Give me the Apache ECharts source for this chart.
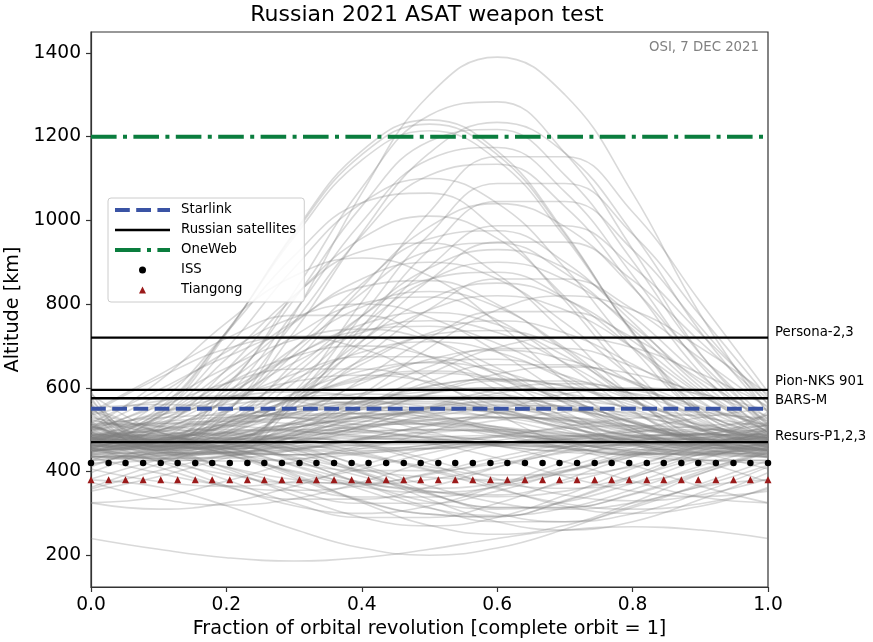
<!DOCTYPE html>
<html>
<head>
<meta charset="utf-8">
<script src="https://cdn.jsdelivr.net/npm/echarts@6/dist/echarts.min.js"></script>
<style>
html,body{margin:0;padding:0;background:#fff;}
#chart{width:873px;height:642px;}
</style>
</head>
<body>
<div id="chart"></div>
<script>
// Sample positions along one orbital revolution
const orbitFraction = [0, 0.1, 0.2, 0.3, 0.4, 0.5, 0.6, 0.7, 0.8, 0.9, 1.0];

// Debris altitude profiles [km] at the sample positions
const highArcs = [
  [540,450,540,775,1065,1300,1390,1300,1065,775,540],
  [509,477,599,829,1078,1251,1283,1161,931,682,509],
  [460,534,729,971,1166,1240,1166,971,729,534,460],
  [543,470,543,734,970,1161,1234,1161,970,734,543],
  [525,497,606,811,1034,1189,1217,1108,903,680,525],
  [480,550,734,960,1144,1214,1144,960,734,550,480],
  [590,458,458,590,805,1020,1152,1152,1020,805,590],
  [492,466,567,757,964,1108,1134,1033,843,636,492],
  [577,456,456,577,772,967,1088,1088,967,772,577],
  [475,564,732,915,1042,1065,976,808,625,498,475],
  [515,460,515,660,840,985,1040,985,840,660,515],
  [450,503,643,817,957,1010,957,817,643,503,450],
  [494,475,550,693,848,956,975,900,757,602,494],
  [563,472,472,563,710,857,948,948,857,710,563],
  [454,529,669,821,926,946,871,731,579,474,454],
  [514,470,514,629,771,886,930,886,771,629,514],
  [503,615,755,867,910,867,755,615,503,460,503],
  [480,520,625,755,860,900,860,755,625,520,480],
  [480,539,694,886,1041,1100,1041,886,694,539,480],
  [560,445,445,560,745,930,1045,1045,930,745,560],
  [504,476,582,781,996,1146,1174,1068,869,654,504],
  [470,543,733,967,1157,1230,1157,967,733,543,470],
  [571,473,473,571,730,889,987,987,889,730,571],
  [493,474,546,680,826,927,946,874,740,594,493]
];
const midArcs = [
  [480,464,526,644,771,860,876,814,696,569,480],
  [474,531,641,759,841,856,799,689,571,489,474],
  [488,450,488,588,712,812,850,812,712,588,488],
  [542,630,718,773,773,718,630,542,487,487,542],
  [440,477,575,695,793,830,793,695,575,477,440],
  [584,494,460,494,584,696,786,820,786,696,584],
  [502,584,686,768,800,768,686,584,502,470,502],
  [520,458,458,520,620,720,782,782,720,620,520],
  [480,509,584,676,751,780,751,676,584,509,480],
  [537,623,693,720,693,623,537,467,440,467,537],
  [489,460,489,564,656,731,760,731,656,564,489],
  [473,514,592,677,737,747,706,628,543,483,473],
  [464,453,496,577,665,726,737,694,613,525,464],
  [516,595,674,723,723,674,595,516,467,467,516],
  [556,494,470,494,556,634,696,720,696,634,556],
  [450,475,540,620,685,710,685,620,540,475,450],
  [465,530,610,675,700,675,610,530,465,440,465],
  [552,480,480,552,670,788,860,860,788,670,552],
  [453,508,612,724,802,817,762,658,546,468,453],
  [502,460,502,612,748,858,900,858,748,612,502],
  [470,498,570,660,732,760,732,660,570,498,470],
  [494,460,494,584,696,786,820,786,696,584,494],
  [509,466,466,509,580,651,694,694,651,580,509],
  [496,563,647,714,740,714,647,563,496,470,496],
  [450,470,523,587,640,660,640,587,523,470,450]
];
const lowArcs = [
  [482,460,482,539,611,668,690,668,611,539,482],
  [456,497,565,633,674,674,633,565,497,456,456],
  [475,475,511,570,629,662,668,629,570,511,475],
  [485,445,445,485,550,615,655,655,615,550,485],
  [499,555,611,645,645,611,555,499,465,465,499],
  [450,468,516,574,622,640,622,574,516,468,450],
  [485,525,575,615,630,615,575,525,485,470,485],
  [457,440,457,502,558,603,620,603,558,502,457],
  [508,469,454,469,508,556,595,610,595,556,508],
  [460,473,508,552,587,600,587,552,508,473,460],
  [494,540,576,590,576,540,494,458,444,458,494],
  [453,453,477,515,553,574,580,553,515,477,453],
  [463,483,515,547,567,567,547,515,483,463,463],
  [465,443,443,465,500,535,557,557,535,500,465],
  [450,460,485,515,540,550,540,515,485,460,450],
  [454,477,507,530,539,530,507,477,454,445,454],
  [462,455,462,481,503,522,529,522,503,481,462],
  [532,487,470,487,532,588,633,650,633,588,532],
  [545,495,455,440,455,495,545,585,600,585,545],
  [535,568,580,568,535,495,462,450,462,495,535]
];
const lowCurves = [
  [240,214,194,186,194,214,240,260,268,260,240],
  [380,363,318,262,217,200,217,262,318,363,380],
  [449,470,449,394,326,271,250,271,326,394,449],
  [480,460,407,343,290,270,290,343,407,460,480],
  [411,461,480,461,411,349,299,280,299,349,411],
  [472,424,366,318,300,318,366,424,472,490,472],
  [485,485,449,390,331,298,292,331,390,449,485],
  [453,486,486,453,400,347,314,314,347,400,453],
  [476,447,400,353,324,324,353,400,447,476,476],
  [457,410,363,334,334,363,410,457,486,486,457],
  [467,480,467,432,388,353,340,353,388,432,467],
  [490,477,442,398,363,350,363,398,442,477,490],
  [434,396,366,355,366,396,434,464,475,464,434],
  [445,478,490,478,445,405,372,360,372,405,445],
  [479,449,411,381,370,381,411,449,479,490,479],
  [487,487,467,435,403,386,380,403,435,467,487],
  [469,488,488,469,440,411,392,392,411,440,469],
  [488,471,445,419,402,402,419,445,471,488,488],
  [362,418,463,480,463,418,362,317,300,317,362],
  [375,335,320,335,375,425,465,480,465,425,375],
  [325,310,325,365,415,455,470,455,415,365,325],
  [325,339,377,423,461,475,461,423,377,339,325],
  [353,388,432,467,480,467,432,388,353,340,353],
  [397,450,470,450,397,333,280,260,280,333,397],
  [426,460,460,426,370,314,280,280,314,370,426],
  [470,436,380,324,290,290,324,380,436,470,470],
  [382,428,466,480,466,428,382,344,330,344,382],
  [482,482,456,415,374,352,344,374,415,456,482],
  [458,475,458,413,357,312,295,312,357,413,458],
  [406,376,365,376,406,444,474,485,474,444,406],
  [473,490,473,428,372,327,310,327,372,428,473],
  [415,455,470,455,415,365,325,310,325,365,415],
  [481,454,410,366,339,339,366,410,454,481,481],
  [358,402,437,450,437,402,358,323,310,323,358],
  [480,469,439,401,371,360,371,401,439,469,480],
  [445,476,476,445,395,345,314,314,345,395,445],
  [457,425,393,373,373,393,425,457,477,477,457],
  [475,475,441,385,329,298,292,329,385,441,475]
];
const bandCurves = [
  [460,464,474,486,496,500,496,486,474,464,460],
  [476,470,476,491,509,524,530,524,509,491,476],
  [502,518,530,535,530,518,502,490,485,490,502],
  [465,458,455,458,465,475,482,485,482,475,465],
  [487,499,520,541,553,553,541,520,499,487,487],
  [499,514,520,514,499,481,466,460,466,481,499],
  [466,454,444,440,444,454,466,476,480,476,466],
  [506,492,492,506,530,554,568,568,554,530,506],
  [476,500,524,538,538,524,500,476,462,462,476],
  [435,438,445,455,462,465,462,455,445,438,435],
  [495,483,467,455,450,455,467,483,495,500,495],
  [462,462,479,505,531,545,551,531,505,479,462],
  [440,450,475,505,530,540,530,505,475,450,440],
  [451,440,451,481,519,549,560,549,519,481,451],
  [443,469,510,551,577,577,551,510,469,443,443],
  [448,468,492,512,520,512,492,468,448,440,448],
  [478,450,440,450,478,512,540,550,540,512,478],
  [444,444,473,520,567,592,600,567,520,473,444],
  [479,462,462,479,505,531,548,548,531,505,479],
  [461,479,494,500,494,479,461,446,440,446,461],
  [459,485,511,528,528,511,485,459,442,442,459],
  [464,450,464,502,548,586,600,586,548,502,464],
  [511,528,535,528,511,489,472,465,472,489,511],
  [486,464,447,440,447,464,486,503,510,503,486],
  [450,462,495,535,568,580,568,535,495,462,450],
  [510,515,510,498,482,470,465,470,482,498,510],
  [436,436,445,460,475,482,486,475,460,445,436],
  [485,454,454,485,535,585,616,616,585,535,485],
  [466,493,527,554,565,554,527,493,466,455,466],
  [527,507,483,463,455,463,483,507,527,535,527],
  [451,432,432,451,480,509,528,528,509,480,451],
  [448,470,505,540,562,562,540,505,470,448,448],
  [437,430,437,454,476,493,500,493,476,454,437],
  [455,472,517,573,618,635,618,573,517,472,455],
  [505,535,560,570,560,535,505,480,470,480,505],
  [426,437,455,473,484,484,473,455,437,426,426],
  [433,433,455,490,525,544,550,525,490,455,433],
  [508,473,460,473,508,552,587,600,587,552,508],
  [435,443,463,487,507,515,507,487,463,443,435],
  [471,500,529,548,548,529,500,471,452,452,471],
  [515,509,494,476,461,455,461,476,494,509,515],
  [475,460,475,515,565,605,620,605,565,515,475],
  [442,430,425,430,442,458,470,475,470,458,442],
  [522,498,478,470,478,498,522,542,550,542,522],
  [427,444,470,496,513,513,496,470,444,427,427],
  [476,506,544,574,585,574,544,506,476,465,476],
  [438,425,438,473,517,552,565,552,517,473,438],
  [420,428,448,472,492,500,492,472,448,428,420],
  [486,496,500,496,486,474,464,460,464,474,486],
  [551,560,551,529,501,479,470,479,501,529,551]
];

// Reference orbits
const starlinkAlt = 550;
const onewebAlt = 1200;
const russianSatAlts = [720, 595, 575, 470];
const russianSatNames = ['Persona-2,3', 'Pion-NKS 901', 'BARS-M', 'Resurs-P1,2,3'];
const stationFraction = [0,0.026,0.051,0.077,0.103,0.128,0.154,0.179,0.205,0.231,0.256,0.282,0.308,0.333,0.359,0.385,0.41,0.436,0.462,0.487,0.513,0.538,0.564,0.59,0.615,0.641,0.667,0.692,0.718,0.744,0.769,0.795,0.821,0.846,0.872,0.897,0.923,0.949,0.974,1];
const issAlt = 420;
const tiangongAlt = 380;
const yTicks = [200, 400, 600, 800, 1000, 1200, 1400];

const FONT = 'DejaVu Sans';
const chart = echarts.init(document.getElementById('chart'), null, {renderer: 'canvas'});

const allDebris = [].concat(highArcs, midArcs, lowArcs, lowCurves, bandCurves);
const series = [];
allDebris.forEach((alts, i) => {
  series.push({
    type: 'line', name: 'debris' + i, silent: true, symbol: 'none', showSymbol: false,
    smooth: 0.45, z: 1,
    lineStyle: {color: 'rgba(128,128,128,0.3)', width: 1.6},
    data: orbitFraction.map((x, j) => [x, alts[j]])
  });
});
const starlinkColor = '#3a53a4', onewebColor = '#0a7d3e', tiangongColor = '#9b1a1a';
const starlinkDash = [14.8, 6.4], onewebDash = [25.6, 6.4, 4, 6.4];
series.push({
  type: 'line', name: 'Starlink', symbol: 'none', z: 4,
  itemStyle: {color: starlinkColor},
  lineStyle: {color: starlinkColor, width: 4, type: starlinkDash},
  data: [[0, starlinkAlt], [1, starlinkAlt]]
});
const labelOffsets = [[0, -5], [0, -8], [0, 2], [0, -6]];
russianSatAlts.forEach((alt, i) => {
  series.push({
    type: 'line', name: 'Russian satellites', symbol: 'none', z: 4,
    itemStyle: {color: '#000'},
    lineStyle: {color: '#000', width: 2.3},
    endLabel: {
      show: true, formatter: russianSatNames[i], distance: 7, offset: labelOffsets[i],
      fontFamily: FONT, fontSize: 13.3, color: '#000'
    },
    data: [[0, alt], [1, alt]]
  });
});
series.push({
  type: 'line', name: 'OneWeb', symbol: 'none', z: 4,
  itemStyle: {color: onewebColor},
  lineStyle: {color: onewebColor, width: 4, type: onewebDash},
  data: [[0, onewebAlt], [1, onewebAlt]]
});
series.push({
  type: 'scatter', name: 'ISS', symbol: 'circle', symbolSize: 6.5, z: 5,
  itemStyle: {color: '#000', opacity: 1},
  data: stationFraction.map(x => [x, issAlt])
});
series.push({
  type: 'scatter', name: 'Tiangong', symbol: 'triangle', symbolSize: 7, z: 5,
  itemStyle: {color: tiangongColor, opacity: 1},
  data: stationFraction.map(x => [x, tiangongAlt])
});

const option = {
  backgroundColor: '#fff',
  animation: false,
  textStyle: {fontFamily: FONT},
  grid: {left: 91, right: 105, top: 32, bottom: 55, containLabel: false, outerBoundsMode: 'none',
         show: true, borderColor: '#333', borderWidth: 1.2, backgroundColor: 'transparent'},
  legend: {
    data: [
      {name: 'Starlink', itemStyle: {opacity: 0}, lineStyle: {width: 4, color: starlinkColor, type: starlinkDash}},
      {name: 'Russian satellites', itemStyle: {opacity: 0}, lineStyle: {width: 2.3, color: '#000', type: 'solid'}},
      {name: 'OneWeb', itemStyle: {opacity: 0}, lineStyle: {width: 4, color: onewebColor, type: onewebDash}},
      {name: 'ISS', icon: 'circle', itemStyle: {color: '#000', opacity: 1}},
      {name: 'Tiangong', icon: 'path://M0,10L5,0L10,10Z', itemStyle: {color: tiangongColor, opacity: 1}}
    ],
    orient: 'vertical', left: 108, top: 198,
    itemWidth: 55, itemHeight: 7, itemGap: 4, symbolKeepAspect: true,
    padding: [4, 8, 4, 5],
    backgroundColor: 'rgba(255,255,255,0.85)', borderColor: '#cccccc', borderWidth: 1, borderRadius: 3,
    textStyle: {fontFamily: FONT, fontSize: 13.3, color: '#000', lineHeight: 16, padding: [0, 0, 0, 6]},
    selectedMode: false
  },
  xAxis: {
    type: 'value', min: 0, max: 1, interval: 0.2,
    name: 'Fraction of orbital revolution [complete orbit = 1]',
    nameLocation: 'middle', nameGap: 31,
    nameTextStyle: {fontFamily: FONT, fontSize: 19.2, color: '#000'},
    axisLine: {show: true, lineStyle: {color: '#333', width: 1.2}},
    axisTick: {show: true, inside: false, length: 5, lineStyle: {color: '#333', width: 1.2}},
    axisLabel: {fontFamily: FONT, fontSize: 18.67, color: '#000', margin: 9, formatter: v => v.toFixed(1)},
    splitLine: {show: false}
  },
  yAxis: {
    type: 'value', min: 124, max: 1450,
    name: 'Altitude [km]', nameLocation: 'middle', nameGap: 58,
    nameTextStyle: {fontFamily: FONT, fontSize: 19.2, color: '#000'},
    axisLine: {show: true, lineStyle: {color: '#333', width: 1.2}},
    axisTick: {show: true, inside: false, length: 5, customValues: yTicks, lineStyle: {color: '#333', width: 1.2}},
    axisLabel: {fontFamily: FONT, fontSize: 18.67, color: '#000', margin: 10, customValues: yTicks, formatter: v => String(v)},
    splitLine: {show: false}
  },
  graphic: [
    {type: 'text', x: 427, y: 4, style: {text: 'Russian 2021 ASAT weapon test', align: 'center', verticalAlign: 'top', fontFamily: FONT, fontSize: 22, fill: '#000'}},
    {type: 'text', x: 759, y: 41, style: {text: 'OSI, 7 DEC 2021', align: 'right', verticalAlign: 'top', fontFamily: FONT, fontSize: 13.3, fill: '#808080'}}
  ],
  series: series
};
chart.setOption(option);
</script>
</body>
</html>
